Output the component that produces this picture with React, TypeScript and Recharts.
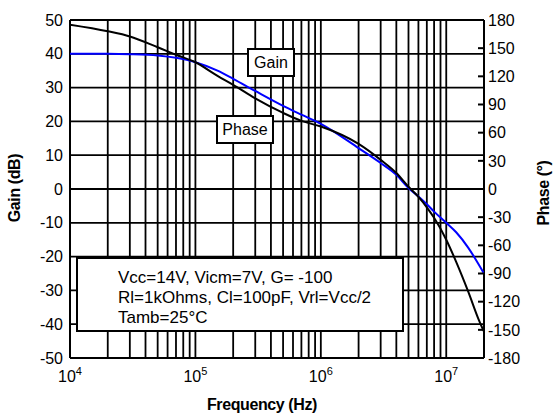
import { LineChart, Line, XAxis, YAxis, CartesianGrid, ReferenceLine } from "recharts";

// frequency points (Hz) for both curves
const freqs = [
  1e4, 2e4, 3e4, 5e4, 7e4, 1e5, 1.5e5, 2e5, 3e5, 5e5, 7e5, 1e6, 2e6, 3e6, 4e6,
  5e6, 6e6, 7e6, 8e6, 1e7, 1.2e7, 1.5e7, 1.8e7, 2e7,
];
const gainDb = [
  40, 40, 39.9, 39.5, 38.8, 37.5, 35, 32.6, 29, 24.6, 22, 19.3, 12.1, 7.7, 4.2,
  0.3, -2.2, -4.5, -6.7, -10, -12.8, -17.4, -22.1, -25,
];
const phaseDeg = [
  175, 168, 162.5, 151, 143, 135, 120.5, 111, 96.5, 81, 72.5, 66.5, 48, 31, 17,
  2.4, -8.4, -19.5, -30.7, -54, -77.6, -109.6, -138, -152,
];

const decadeTicks = [1e4, 1e5, 1e6, 1e7];
const decadeExp = ["4", "5", "6", "7"];
const minorFreqs = [
  2e4, 3e4, 4e4, 5e4, 6e4, 7e4, 8e4, 9e4, 1e5,
  2e5, 3e5, 4e5, 5e5, 6e5, 7e5, 8e5, 9e5, 1e6,
  2e6, 3e6, 4e6, 5e6, 6e6, 7e6, 8e6, 9e6, 1e7,
];
const gainTicks = [-50, -40, -30, -20, -10, 0, 10, 20, 30, 40, 50];
const phaseTicks = [-180, -150, -120, -90, -60, -30, 0, 30, 60, 90, 120, 150, 180];

const conditions = [
  "Vcc=14V, Vicm=7V, G= -100",
  "Rl=1kOhms, Cl=100pF, Vrl=Vcc/2",
  "Tamb=25°C",
];

const data = freqs.map((f, i) => ({ f, gain: gainDb[i], phase: phaseDeg[i] }));

const FONT = "'Liberation Sans', Arial, sans-serif";

const FreqTick = (props: any) => {
  const { x, y, payload } = props;
  const idx = decadeTicks.indexOf(payload.value);
  return (
    <text x={x} y={y + 24} textAnchor="middle" fontFamily={FONT} fontSize={16} fill="#000">
      <tspan>10</tspan>
      <tspan fontSize={11} dy={-7}>{decadeExp[idx]}</tspan>
    </text>
  );
};

const PhaseTick = (props: any) => {
  const { x, y, payload } = props;
  return (
    <g>
      <line x1={x - 6} y1={y} x2={x} y2={y} stroke="#000" strokeWidth={2} />
      <text x={x + 4} y={y} dy="0.355em" textAnchor="start" fontFamily={FONT} fontSize={16} fill="#000">
        {payload.value}
      </text>
    </g>
  );
};

const App = () => {
  return (
    <div style={{ position: "absolute", left: 0, top: 0, width: 554, height: 414, background: "#fff" }}>
      <LineChart
        width={554}
        height={414}
        data={data}
        margin={{ top: 20, right: 0, bottom: 0, left: 0 }}
      >
        <CartesianGrid yAxisId="gain" vertical={false} stroke="#000" strokeWidth={1.8} />
        <XAxis
          dataKey="f"
          type="number"
          scale="log"
          domain={[1e4, 2e7]}
          allowDataOverflow
          ticks={decadeTicks}
          interval={0}
          height={56}
          axisLine={false}
          tickLine={false}
          tickSize={0}
          tickMargin={0}
          tick={<FreqTick />}
        />
        <YAxis
          yAxisId="gain"
          orientation="left"
          domain={[-50, 50]}
          ticks={gainTicks}
          interval={0}
          width={70}
          axisLine={false}
          tickLine={false}
          tickSize={0}
          tickMargin={7}
          tick={{ fontSize: 16, fill: "#000", fontFamily: FONT }}
        />
        <YAxis
          yAxisId="phase"
          orientation="right"
          domain={[-180, 180]}
          ticks={phaseTicks}
          interval={0}
          width={70}
          axisLine={false}
          tickLine={false}
          tickSize={0}
          tickMargin={0}
          tick={<PhaseTick />}
        />
        {minorFreqs.map((f) => (
          <ReferenceLine key={f} yAxisId="gain" x={f} stroke="#000" strokeWidth={1.8} />
        ))}
        <ReferenceLine yAxisId="gain" x={1e4} stroke="#000" strokeWidth={2} />
        <ReferenceLine yAxisId="gain" x={2e7} stroke="#000" strokeWidth={2} />
        <ReferenceLine yAxisId="gain" y={50} stroke="#000" strokeWidth={2} />
        <ReferenceLine yAxisId="gain" y={-50} stroke="#000" strokeWidth={2} />
        <Line
          yAxisId="gain"
          dataKey="gain"
          type="monotone"
          stroke="#0000ff"
          strokeWidth={2}
          dot={false}
          isAnimationActive={false}
        />
        <Line
          yAxisId="phase"
          dataKey="phase"
          type="monotone"
          stroke="#000"
          strokeWidth={2}
          dot={false}
          isAnimationActive={false}
        />
      </LineChart>
      <svg
        width={554}
        height={414}
        style={{ position: "absolute", left: 0, top: 0, pointerEvents: "none" }}
        fontFamily={FONT}
      >
        <rect x={248} y={49} width={46} height={27} fill="#fff" stroke="#000" strokeWidth={2} />
        <text x={271} y={68} textAnchor="middle" fontSize={16}>Gain</text>
        <rect x={217} y={116} width={56} height={27} fill="#fff" stroke="#000" strokeWidth={2} />
        <text x={245} y={135} textAnchor="middle" fontSize={16}>Phase</text>
        <rect x={77} y={258} width={326} height={73} fill="#fff" stroke="#000" strokeWidth={2} />
        {conditions.map((c, i) => (
          <text key={c} x={118} y={283 + i * 20} fontSize={17}>{c}</text>
        ))}
        <text
          transform="translate(20,188) rotate(-90)"
          textAnchor="middle"
          fontSize={16}
          fontWeight="bold"
          letterSpacing={-0.4}
        >
          Gain (dB)
        </text>
        <text
          transform="translate(549,193) rotate(-90)"
          textAnchor="middle"
          fontSize={16}
          fontWeight="bold"
          letterSpacing={-0.4}
        >
          Phase (°)
        </text>
        <text x={262} y={410} textAnchor="middle" fontSize={16} fontWeight="bold" letterSpacing={-0.4}>
          Frequency (Hz)
        </text>
      </svg>
    </div>
  );
};

export default App;
